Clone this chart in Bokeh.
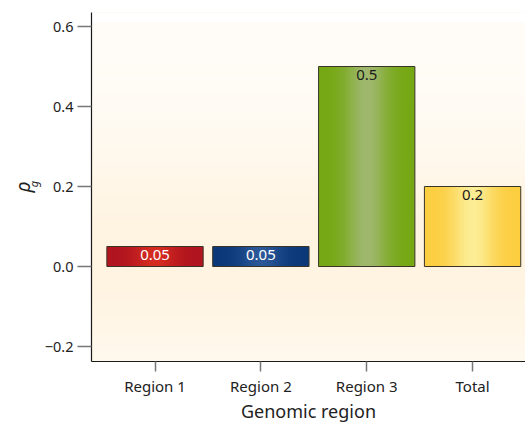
import numpy as np
from bokeh.plotting import figure
from bokeh.models import Range1d, FixedTicker, LinearAxis, ColumnDataSource
from bokeh.core.properties import value
from bokeh.embed import file_html
from bokeh.resources import INLINE

# Genetic correlation per genomic region
regions = ["Region 1", "Region 2", "Region 3", "Total"]
rho_g = [0.05, 0.05, 0.5, 0.2]
value_labels = ["0.05", "0.05", "0.5", "0.2"]
edge_colors = [(176, 20, 30), (10, 56, 120), (118, 168, 20), (252, 206, 64)]
center_colors = [(214, 44, 34), (44, 88, 152), (160, 184, 110), (252, 238, 150)]
label_colors = ["white", "white", "#1a1a1a", "#1a1a1a"]
y_ticks = [-0.2, 0.0, 0.2, 0.4, 0.6]

FONT = "Noto Sans"
xs = np.arange(len(regions)) + 0.5
bar_w = 0.91

p = figure(width=525, height=425, output_backend="svg", toolbar_location=None,
           x_range=Range1d(-0.1, 4.0), y_range=Range1d(-0.2375, 0.635),
           min_border_left=91, min_border_right=0, min_border_top=12,
           min_border_bottom=64)
p.outline_line_color = None
p.grid.visible = False
p.background_fill_color = "#fdf6e8"
p.border_fill_color = "white"

# Soft vertical wash behind the bars
ny = 200
t = np.linspace(0, 1, ny)
peak = np.exp(-((t - 0.3) / 0.35) ** 2)
r = np.full(ny, 255.0)
g = 253 - 9 * peak
b = 249 - 24 * peak
top_band = t > 0.97  # near-white strip at the very top
g = np.where(top_band, 255, g)
b = np.where(top_band, 255, b)
bg = np.zeros((ny, 1), dtype=np.uint32)
view = bg.view(dtype=np.uint8).reshape((ny, 1, 4))
view[:, 0, 0] = r.astype(np.uint8)
view[:, 0, 1] = g.astype(np.uint8)
view[:, 0, 2] = b.astype(np.uint8)
view[:, 0, 3] = 255
p.image_rgba(image=[bg], x=-0.1, y=-0.2375, dw=4.1, dh=0.8725)

# Bars with a horizontal sheen (lighter toward the middle)
nx = 64
u = np.linspace(-1, 1, nx)
w = np.exp(-(u / 0.45) ** 2)
imgs = []
for ec, cc in zip(edge_colors, center_colors):
    img = np.zeros((1, nx), dtype=np.uint32)
    v = img.view(dtype=np.uint8).reshape((1, nx, 4))
    for k in range(3):
        v[0, :, k] = (ec[k] + (cc[k] - ec[k]) * w).astype(np.uint8)
    v[0, :, 3] = 255
    imgs.append(img)
src = ColumnDataSource(dict(
    image=imgs, x=list(xs - bar_w / 2), y=[0] * len(rho_g),
    dw=[bar_w] * len(rho_g), dh=rho_g, xc=list(xs), top=rho_g,
    lab=value_labels, lc=label_colors))
p.image_rgba(image="image", x="x", y="y", dw="dw", dh="dh", source=src)
p.vbar(x="xc", top="top", bottom=0, width=bar_w, source=src,
       fill_color=None, line_color="#3a3428", line_width=1)
p.text(x="xc", y="top", text="lab", source=src, text_color="lc",
       text_align="center", text_baseline="top", y_offset=3,
       text_font=value(FONT), text_font_size="15px")

# Axes
p.xaxis.ticker = FixedTicker(ticks=list(xs))
p.xaxis.major_label_overrides = {float(x): lab for x, lab in zip(xs, regions)}
p.yaxis.ticker = FixedTicker(ticks=y_ticks)
p.yaxis.major_label_overrides = {-0.2: "\u22120.2", 0.0: "0.0", 0.2: "0.2",
                                 0.4: "0.4", 0.6: "0.6"}
for ax in (p.xaxis[0], p.yaxis[0]):
    ax.axis_line_color = "#1a1a1a"
    ax.axis_line_width = 1.2
    ax.major_tick_line_color = "#777777"
    ax.major_tick_line_width = 1.5
    ax.minor_tick_line_color = None
    ax.major_label_text_font = FONT
    ax.major_label_text_color = "#222222"
p.xaxis.major_label_text_font_size = "15px"
p.yaxis.major_label_text_font_size = "14.5px"
p.xaxis.major_tick_in = 0
p.xaxis.major_tick_out = 10
p.yaxis.major_tick_in = 0
p.yaxis.major_tick_out = 14
p.xaxis.major_label_standoff = 4
p.yaxis.major_label_standoff = 4
p.xaxis.axis_label = "Genomic region"
p.xaxis.axis_label_text_font = FONT
p.xaxis.axis_label_text_font_style = "normal"
p.xaxis.axis_label_text_font_size = "18px"
p.xaxis.axis_label_text_color = "#222222"
p.xaxis.axis_label_standoff = 0

# y-axis title: italic rho (outer, tick-less axis) with subscript g (inner)
p.yaxis.axis_label = "\u00a0\u00a0g"
p.yaxis.axis_label_text_font = FONT
p.yaxis.axis_label_text_font_style = "italic"
p.yaxis.axis_label_text_font_size = "11px"
p.yaxis.axis_label_text_color = "#222222"
p.yaxis.axis_label_standoff = 1

rho_axis = LinearAxis(ticker=FixedTicker(ticks=[]), axis_label="\u03c1",
                      axis_line_color=None, major_tick_line_color=None,
                      minor_tick_line_color=None,
                      major_tick_in=0, major_tick_out=0,
                      major_label_standoff=0,
                      major_label_text_font_size="0px",
                      axis_label_text_font=FONT,
                      axis_label_text_font_style="italic",
                      axis_label_text_font_size="20px",
                      axis_label_text_color="#222222",
                      axis_label_standoff=-13)
p.add_layout(rho_axis, "left")

open("out.html", "w").write(file_html(p, INLINE))
